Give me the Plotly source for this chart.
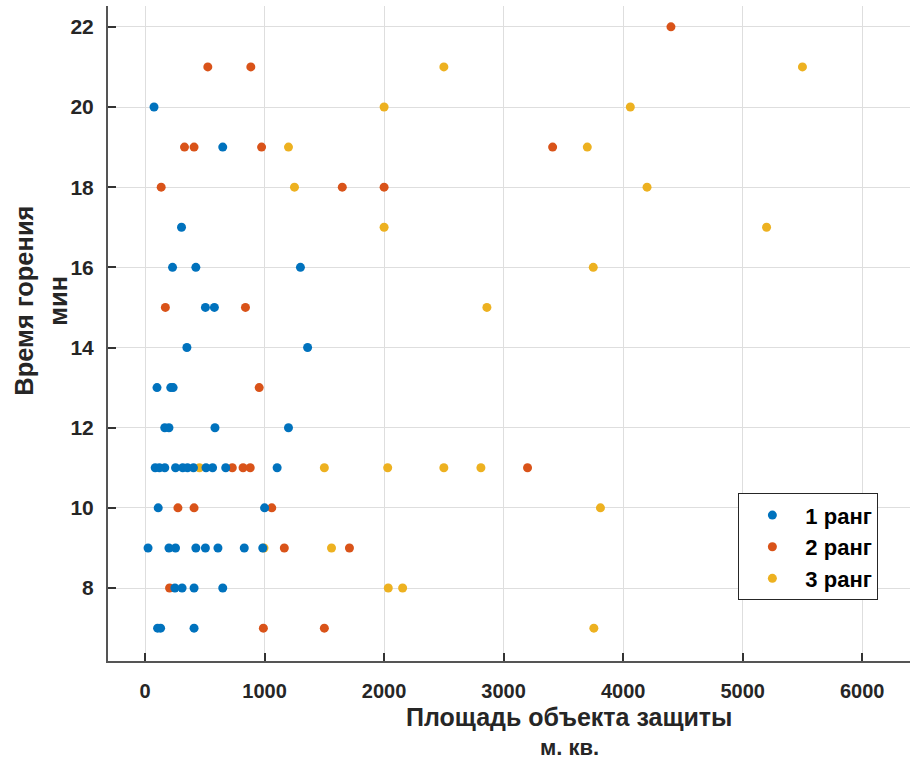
import plotly.graph_objects as go

# 1 ранг (blue)
r1_area = [75, 650, 305, 230, 425, 1300, 505, 580, 350, 1360, 100, 215, 235,
           165, 200, 585, 1200,
           85, 120, 165, 255, 315, 355, 405, 510, 565, 675, 1105,
           110, 1000,
           25, 200, 255, 425, 505, 610, 830, 985,
           250, 310, 410, 650,
           105, 130, 410]
r1_time = [20, 19, 17, 16, 16, 16, 15, 15, 14, 14, 13, 13, 13,
           12, 12, 12, 12,
           11, 11, 11, 11, 11, 11, 11, 11, 11, 11, 11,
           10, 10,
           9, 9, 9, 9, 9, 9, 9, 9,
           8, 8, 8, 8,
           7, 7, 7]

# 2 ранг (orange)
r2_area = [4400, 525, 885, 330, 410, 975, 3410, 135, 1650, 2000, 170, 840, 955,
           730, 820, 880, 3200, 275, 410, 1060, 1165, 1710, 205, 990, 1500]
r2_time = [22, 21, 21, 19, 19, 19, 19, 18, 18, 18, 15, 15, 13,
           11, 11, 11, 11, 10, 10, 10, 9, 9, 8, 7, 7]

# 3 ранг (yellow)
r3_area = [2500, 5500, 2000, 4060, 1200, 3700, 1250, 4200, 2000, 5200, 3750, 2860,
           455, 1500, 2030, 2500, 2810, 3810, 995, 1560, 2035, 2155, 3755]
r3_time = [21, 21, 20, 20, 19, 19, 18, 18, 17, 17, 16, 15,
           11, 11, 11, 11, 11, 10, 9, 9, 8, 8, 7]

x_ticks = [0, 1000, 2000, 3000, 4000, 5000, 6000]
y_ticks = [8, 10, 12, 14, 16, 18, 20, 22]

C1, C2, C3 = "#0072BD", "#D95319", "#EDB120"
FONT = "Liberation Sans, Arial, sans-serif"
DARK = "#262626"

fig = go.Figure()
fig.add_trace(go.Scatter(x=r3_area, y=r3_time, mode="markers", name="3 ранг",
                         marker=dict(color=C3, size=9), legendrank=3))
fig.add_trace(go.Scatter(x=r2_area, y=r2_time, mode="markers", name="2 ранг",
                         marker=dict(color=C2, size=9), legendrank=2))
fig.add_trace(go.Scatter(x=r1_area, y=r1_time, mode="markers", name="1 ранг",
                         marker=dict(color=C1, size=9), legendrank=1))

axis_common = dict(
    showgrid=True, gridcolor="#dedede", gridwidth=1,
    zeroline=False, showline=True, linecolor="#555555", linewidth=2,
    ticks="inside", ticklen=8, tickwidth=1.5, tickcolor="#333333",
    mirror=False,
)

fig.update_layout(
    width=913, height=762,
    margin=dict(l=108, r=3, t=6, b=101),
    paper_bgcolor="white", plot_bgcolor="white",
    showlegend=True,
    legend=dict(x=0.786, y=0.256, xanchor="left", yanchor="top",
                bgcolor="white", bordercolor=DARK, borderwidth=1,
                itemwidth=56,
                font=dict(family=FONT, size=22, color="black", weight="bold"),
                traceorder="normal"),
    xaxis=dict(range=[-310, 6400], tickvals=x_ticks, ticklabelstandoff=11,
               tickfont=dict(family=FONT, size=20, color=DARK, weight="bold"),
               **axis_common),
    yaxis=dict(range=[6.18, 22.52], tickvals=y_ticks, ticklabelstandoff=8,
               tickfont=dict(family=FONT, size=21, color=DARK, weight="bold"),
               **axis_common),
)

fig.add_annotation(text="Площадь объекта защиты", xref="paper", yref="paper",
                   x=0.575, y=0, yshift=-56, xanchor="center", yanchor="middle",
                   showarrow=False,
                   font=dict(family=FONT, size=25, color=DARK, weight="bold"))
fig.add_annotation(text="м. кв.", xref="paper", yref="paper",
                   x=0.575, y=0, yshift=-86, xanchor="center", yanchor="middle",
                   showarrow=False,
                   font=dict(family=FONT, size=22, color=DARK, weight="bold"))
fig.add_annotation(text="Время горения", xref="paper", yref="paper",
                   x=0, xshift=-84, y=0.55, xanchor="center", yanchor="middle",
                   textangle=-90, showarrow=False,
                   font=dict(family=FONT, size=25.5, color=DARK, weight="bold"))
fig.add_annotation(text="мин", xref="paper", yref="paper",
                   x=0, xshift=-50, y=0.55, xanchor="center", yanchor="middle",
                   textangle=-90, showarrow=False,
                   font=dict(family=FONT, size=25.5, color=DARK, weight="bold"))

fig.write_html("out.html", config={"displayModeBar": False},
               post_script="document.body.style.margin='0';")
